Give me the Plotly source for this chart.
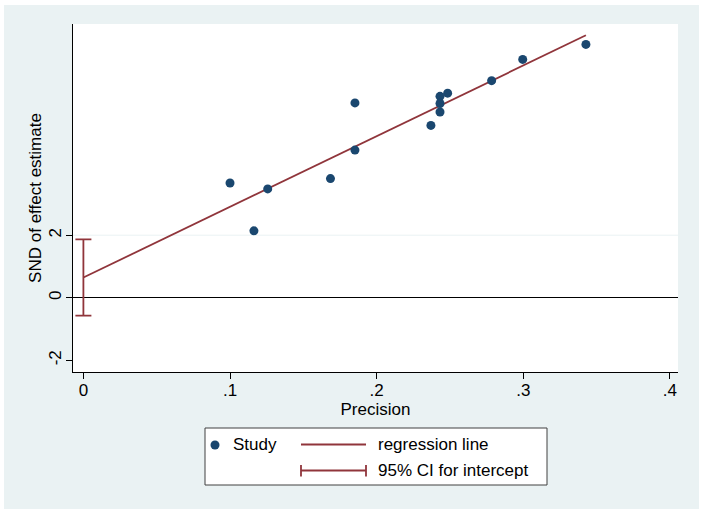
import plotly.graph_objects as go

# ---- data ----
precision = [0.1000, 0.1163, 0.1257, 0.1685, 0.1852, 0.1852, 0.2370,
             0.2432, 0.2432, 0.2432, 0.2484, 0.2784, 0.2996, 0.3427]
snd = [3.67, 2.14, 3.48, 3.81, 6.23, 4.72, 5.51,
       6.44, 6.21, 5.94, 6.54, 6.94, 7.62, 8.10]
intercept = 0.646
slope = 22.6
ci_low = -0.574
ci_high = 1.866

x_ticks = [0, 0.1, 0.2, 0.3, 0.4]
x_tick_labels = ["0", ".1", ".2", ".3", ".4"]
y_ticks = [-2, 0, 2]
y_tick_labels = ["-2", "0", "2"]

# ---- styling ----
W, H = 702, 513
L, R, T, B = 73, 678, 24, 372  # plot area in pixels
NAVY = "#1A476F"
MAROON = "#90353B"
BG = "#EAF2F3"
FONT = "Liberation Sans, Arial, sans-serif"
FS = 17


def px(xp):
    return (xp - L) / (R - L)


def py(yp):
    return (B - yp) / (B - T)


fig = go.Figure()

# regression line
x_line = [0, max(precision)]
y_line = [intercept + slope * v for v in x_line]
fig.add_trace(go.Scatter(x=x_line, y=y_line, mode="lines",
                         line=dict(color=MAROON, width=1.8),
                         hoverinfo="skip", showlegend=False))

# CI for intercept
mid = (ci_low + ci_high) / 2
fig.add_trace(go.Scatter(
    x=[0], y=[mid], mode="markers",
    marker=dict(size=1, color="rgba(0,0,0,0)"),
    error_y=dict(type="data", symmetric=False,
                 array=[ci_high - mid], arrayminus=[mid - ci_low],
                 color=MAROON, thickness=1.8, width=8),
    hoverinfo="skip", showlegend=False))

# studies
fig.add_trace(go.Scatter(x=precision, y=snd, mode="markers",
                         marker=dict(size=9, color=NAVY),
                         showlegend=False))

shapes = []
# outer background
shapes.append(dict(type="rect", xref="paper", yref="paper",
                   x0=px(4), x1=px(699), y0=py(509), y1=py(5),
                   fillcolor=BG, line=dict(width=0), layer="below"))
# plot area white
shapes.append(dict(type="rect", xref="paper", yref="paper",
                   x0=0, x1=1, y0=0, y1=1,
                   fillcolor="white", line=dict(width=0), layer="below"))
# grid line at 2
shapes.append(dict(type="line", xref="paper", yref="y",
                   x0=0, x1=1, y0=2, y1=2,
                   line=dict(color=BG, width=1), layer="below"))

# legend box
shapes.append(dict(type="rect", xref="paper", yref="paper",
                   x0=px(205), x1=px(547), y0=py(485), y1=py(428),
                   fillcolor="white", line=dict(color="#404040", width=1)))
# legend marker
shapes.append(dict(type="circle", xref="paper", yref="paper",
                   xsizemode="pixel", ysizemode="pixel",
                   xanchor=px(215), yanchor=py(445),
                   x0=-4.5, x1=4.5, y0=-4.5, y1=4.5,
                   fillcolor=NAVY, line=dict(width=0)))
# legend regression line sample
shapes.append(dict(type="line", xref="paper", yref="paper",
                   x0=px(301), x1=px(366), y0=py(444.5), y1=py(444.5),
                   line=dict(color=MAROON, width=1.8)))
# legend CI sample
shapes.append(dict(type="line", xref="paper", yref="paper",
                   x0=px(301), x1=px(366), y0=py(470.5), y1=py(470.5),
                   line=dict(color=MAROON, width=1.8)))
for xx in (301, 366):
    shapes.append(dict(type="line", xref="paper", yref="paper",
                       x0=px(xx), x1=px(xx), y0=py(465), y1=py(476.5),
                       line=dict(color=MAROON, width=1.8)))

annotations = [
    dict(text="Study", x=px(231), y=py(445), xref="paper", yref="paper",
         xanchor="left", yanchor="middle", showarrow=False,
         font=dict(family=FONT, size=FS, color="black")),
    dict(text="regression line", x=px(376), y=py(445), xref="paper", yref="paper",
         xanchor="left", yanchor="middle", showarrow=False,
         font=dict(family=FONT, size=FS, color="black")),
    dict(text="95% CI for intercept", x=px(376), y=py(470.5), xref="paper", yref="paper",
         xanchor="left", yanchor="middle", showarrow=False,
         font=dict(family=FONT, size=FS, color="black")),
]

fig.update_layout(
    width=W, height=H,
    margin=dict(l=L, r=W - R, t=T, b=H - B, pad=0),
    paper_bgcolor="white", plot_bgcolor="rgba(0,0,0,0)",
    font=dict(family=FONT, size=FS, color="black"),
    shapes=shapes, annotations=annotations, showlegend=False,
    xaxis=dict(range=[-0.00709, 0.4055], tickvals=x_ticks, ticktext=x_tick_labels,
               showgrid=False, zeroline=False, showline=True, linecolor="black",
               linewidth=1, ticks="outside", ticklen=6, tickcolor="black",
               tickfont=dict(size=FS), ticklabelstandoff=-3,
               title=dict(text="Precision", standoff=2, font=dict(size=FS))),
    yaxis=dict(range=[-2.374, 8.752], tickvals=y_ticks, ticktext=y_tick_labels,
               tickangle=-90, showgrid=False, zeroline=True, zerolinecolor="black",
               zerolinewidth=1, showline=True, linecolor="black", linewidth=1,
               ticks="outside", ticklen=6, tickcolor="black",
               tickfont=dict(size=FS), ticklabelstandoff=-2,
               title=dict(text="SND of effect estimate", standoff=0, font=dict(size=FS))),
)

fig.write_html("out.html",
               config={"displayModeBar": False},
               post_script="document.body.style.margin='0';document.body.style.padding='0';")
